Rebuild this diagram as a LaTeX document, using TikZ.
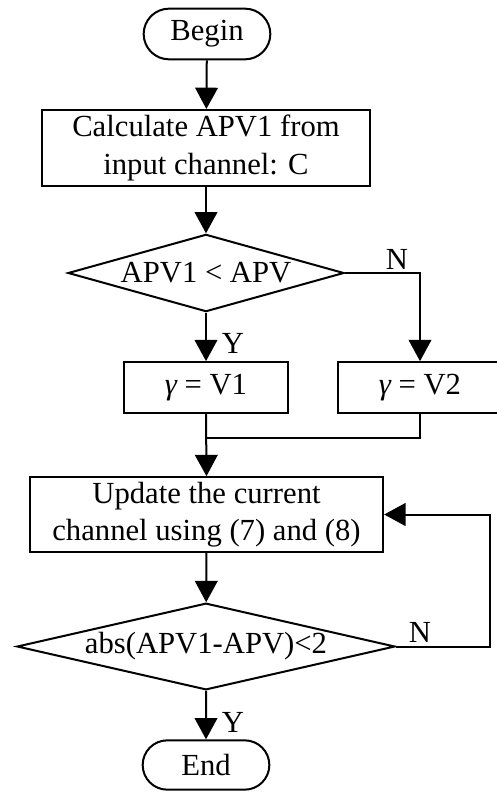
\documentclass[tikz,border=0pt]{standalone}
\usepackage{fontspec}
\setmainfont{Liberation Serif}
\usetikzlibrary{shapes.geometric,shapes.misc,arrows.meta}
\begin{document}
\begin{tikzpicture}[x=0.75pt,y=-0.75pt,
  line width=1.5pt,
  every node/.style={font=\fontsize{23}{28}\selectfont},
  term/.style={draw,rounded rectangle,minimum width=95pt,minimum height=38pt,inner sep=0pt},
  proc/.style={draw,rectangle,align=center,inner sep=0pt},
  dec/.style={draw,diamond,inner sep=0pt},
  arr/.style={-{Triangle[width=17pt,length=16pt]}},
  lbl/.style={inner sep=0pt}]
\useasboundingbox (0,0) rectangle (496,792);
\node[term] (begin) at (207,34) {Begin};
\node[proc,minimum width=246pt,minimum height=57pt] (calc) at (206,148) {Calculate APV1 from\\input channel: C};
\node[dec,aspect=3.58,minimum width=207pt,minimum height=58pt] (d1) at (206,273) {APV1 < APV};
\node[proc,minimum width=123pt,minimum height=38pt] (v1) at (206,387.5) {{\itshape γ} = V1};
\node[proc,minimum width=123pt,minimum height=38pt] (v2) at (420,387.5) {{\itshape γ} = V2};
\node[proc,minimum width=265pt,minimum height=56pt] (upd) at (206.5,514.5) {Update the current\\channel using (7) and (8)};
\node[dec,aspect=4.34,minimum width=283.5pt,minimum height=65pt] (d2) at (206,646.5) {abs(APV1-APV)<2};
\node[term,minimum height=37pt] (end) at (206,765) {End};
\node[lbl] (n1) at (397,259) {N};
\node[lbl] (y1) at (233,343) {Y};
\node[lbl] (n2) at (420,632) {N};
\node[lbl] (y2) at (233,722) {Y};
\coordinate (m) at (206,438);
\coordinate (fb) at (490,514.5);
\draw[arr] (begin) -- (calc);
\draw[arr] (calc) -- (d1);
\draw[arr] (d1) -- (v1);
\draw[arr] (d1.east) -| (v2.north);
\draw (v2.south) |- (m);
\draw[arr] (v1.south) -- (upd.north);
\draw[arr] (upd) -- (d2);
\draw[arr] (d2) -- (end);
\draw[arr] (d2.east) -| (fb) -- (upd.east);
\end{tikzpicture}
\end{document}
